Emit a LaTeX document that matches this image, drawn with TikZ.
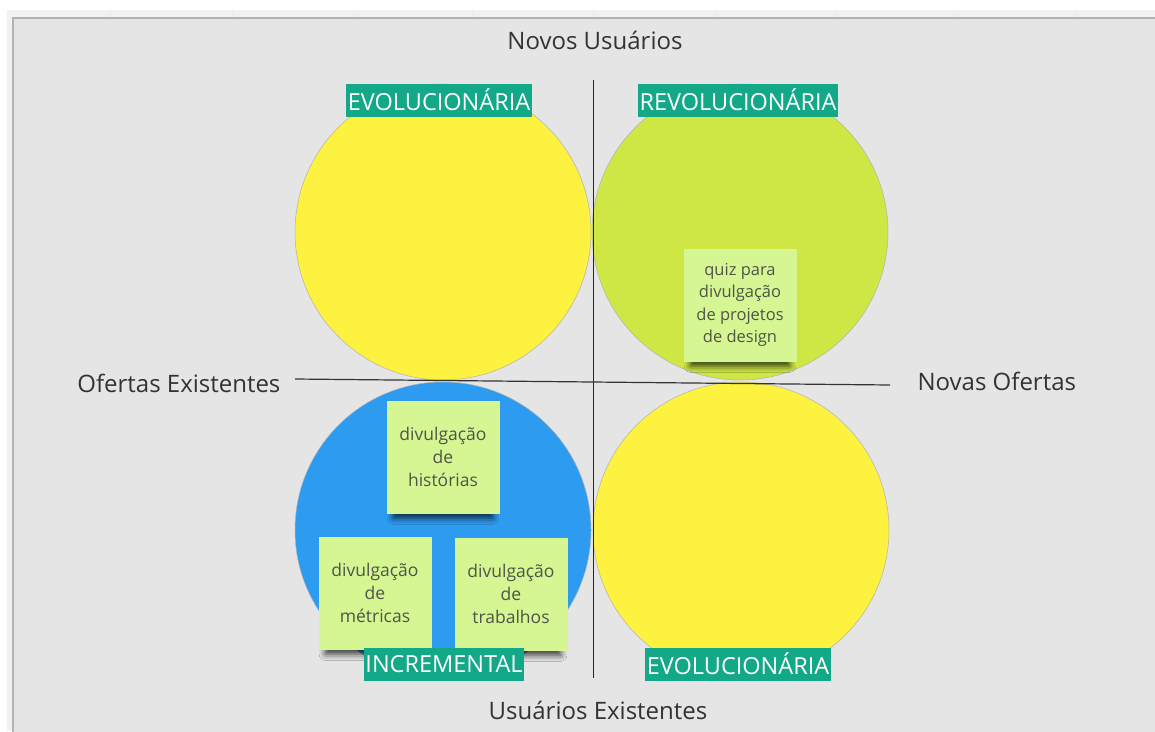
\documentclass[tikz,border=0pt]{standalone}
\usepackage{fontspec}
\setmainfont{Open Sans}
\usetikzlibrary{shadows.blur}

\definecolor{panelgray}{HTML}{E5E5E5}
\definecolor{stripgray}{HTML}{F1F1F1}
\definecolor{bubyellow}{HTML}{FDF240}
\definecolor{bublime}{HTML}{CEE744}
\definecolor{bubblue}{HTML}{2D9BEF}
\definecolor{tagteal}{HTML}{13A887}
\definecolor{notegreen}{HTML}{D5F693}
\definecolor{notetext}{HTML}{4F5547}
\definecolor{axistext}{HTML}{333333}

\begin{document}
\begin{tikzpicture}[x=1pt,y=-1pt,
  bubble/.style={circle,draw=black!30,line width=0.5pt,minimum size=296pt,inner sep=0pt},
  tag/.style={fill=tagteal,text=white,minimum height=33pt,inner xsep=1.5pt,inner ysep=0pt,
    font=\fontsize{23.5}{25}\selectfont},
  sticky/.style={fill=notegreen,text=notetext,minimum size=113pt,inner sep=2pt,align=center,
    font=\fontsize{17.5}{23}\selectfont,
    blur shadow={shadow xshift=0pt,shadow yshift=-13pt,shadow scale=0.88,
      shadow opacity=75,shadow blur radius=7pt}},
  axislabel/.style={text=axistext,font=\fontsize{24}{28}\selectfont}]
  \useasboundingbox (0,0) rectangle (1155,731);

  % board background
  \fill[white] (0,0) rectangle (1155,731);
  \fill[stripgray] (7,10) rectangle (1155,731);
  \foreach \x in {110,232,354,472,593,715,836,957,1076}
    \draw[black!7] (\x,10) -- (\x,18);
  \foreach \y in {135,258,377,497,619}
    \draw[black!7] (7,\y) -- (13,\y);
  \draw[black!30,line width=1.2pt,fill=panelgray] (13,18) rectangle (1170,745);

  % the four quadrants
  \node[bubble,fill=bubyellow] (tl) at (443,232) {};
  \node[bubble,fill=bublime]   (tr) at (740,232) {};
  \node[bubble,fill=bubblue]   (bl) at (443,530) {};
  \node[bubble,fill=bubyellow] (br) at (741,530) {};

  % axes
  \node[axislabel] (novosu) at (595,40) {Novos Usuários};
  \node[axislabel] (existu) at (598,710) {Usuários Existentes};
  \node[axislabel,anchor=east] (existo) at (284,383) {Ofertas Existentes};
  \node[axislabel,anchor=west] (novaso) at (914,381) {Novas Ofertas};
  \coordinate (vtop) at (593,80);
  \coordinate (vbot) at (593,678);
  \coordinate (hleft) at (295,379);
  \coordinate (hright) at (890,385);
  \draw[black!85,line width=1pt] (vtop) -- (vbot);
  \draw[black!80,line width=1.2pt] (hleft) -- (hright);

  % sticky notes
  \node[sticky,font=\fontsize{16.5}{22.5}\selectfont] (quiz) at (740,305)
    {quiz para\\divulgação\\de projetos\\de design};
  \node[sticky] (hist) at (443,457) {divulgação\\de\\histórias};
  \node[sticky] (metr) at (375,593) {divulgação\\de\\métricas};
  \node[sticky] (trab) at (511,594) {divulgação\\de\\trabalhos};

  % quadrant tags
  \node[tag] (tagtl) at (439,100) {EVOLUCIONÁRIA};
  \node[tag] (tagtr) at (738,100) {REVOLUCIONÁRIA};
  \node[tag] (tagbl) at (444,664) {INCREMENTAL};
  \node[tag] (tagbr) at (738,664) {EVOLUCIONÁRIA};
\end{tikzpicture}
\end{document}
